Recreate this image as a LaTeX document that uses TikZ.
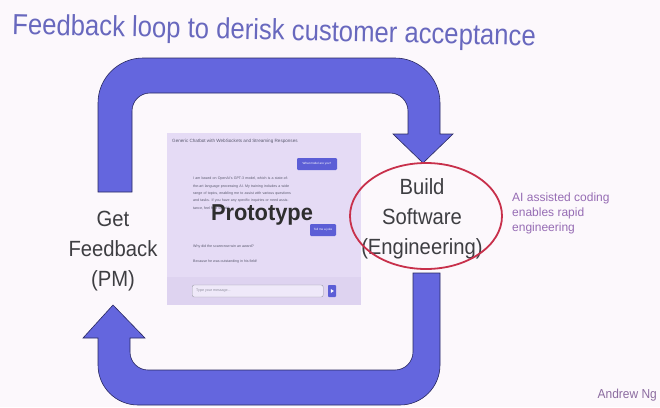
\documentclass[tikz,border=0pt]{standalone}
\usepackage{fontspec}
\setmainfont{Liberation Sans}
\usetikzlibrary{shapes.geometric}
\definecolor{bgc}{RGB}{252,248,252}
\definecolor{arrowfill}{RGB}{100,102,222}
\definecolor{arrowline}{RGB}{40,40,95}
\definecolor{titlec}{RGB}{104,104,190}
\definecolor{labelc}{RGB}{62,62,66}
\definecolor{shotc}{RGB}{229,219,245}
\definecolor{shotlow}{RGB}{222,211,240}
\definecolor{bubblec}{RGB}{92,94,214}
\definecolor{smallc}{RGB}{90,90,110}
\definecolor{ringc}{RGB}{200,48,75}
\definecolor{aic}{RGB}{150,108,180}
\definecolor{andrewc}{RGB}{140,108,160}
\tikzset{
  bigarrow/.style={fill=arrowfill, draw=arrowline, line width=0.6pt, line join=miter},
  biglabel/.style={text=labelc, align=center, inner sep=0pt, font=\fontsize{22}{30}\selectfont},
  tiny/.style={text=smallc, inner sep=0pt, font=\fontsize{3.6}{7.3}\selectfont},
  bubble/.style={fill=bubblec, rounded corners=1.2pt, inner sep=0pt, text=white, font=\fontsize{3}{4}\selectfont, align=center}
}
\begin{document}
\begin{tikzpicture}[x=1pt,y=-1pt]
\useasboundingbox (0,0) rectangle (660,407);
\fill[bgc] (0,0) rectangle (660,407);

% title
\node[anchor=base west, inner sep=0pt, text=titlec, rotate=-1.3,
      font=\fontsize{29}{34}\selectfont] (title) at (12,34)
  {\scalebox{0.885}[1]{Feedback loop to derisk customer acceptance}};

% top arrow
\path[bigarrow] (98,192) -- (98,103)
  .. controls (98,78.2) and (118.2,58) .. (143,58) -- (395,58)
  .. controls (419.8,58) and (440,78.2) .. (440,103) -- (440,134)
  -- (453,134) -- (423,163) -- (393,134) -- (408,134) -- (408,111)
  .. controls (408,101.1) and (399.9,93) .. (390,93) -- (150,93)
  .. controls (140.1,93) and (132,101.1) .. (132,111) -- (132,192) -- cycle;

% bottom arrow
\path[bigarrow] (413,273) -- (440,273) -- (440,365)
  .. controls (440,387.1) and (422.1,405) .. (400,405) -- (138,405)
  .. controls (115.9,405) and (98,387.1) .. (98,365) -- (98,338)
  -- (83,338) -- (113,305) -- (145,338) -- (130,338) -- (130,352)
  .. controls (130,361.9) and (138.1,370) .. (148,370) -- (395,370)
  .. controls (404.9,370) and (413,361.9) .. (413,352) -- cycle;

% screenshot
\fill[shotc] (167,133) rectangle (361,305);
\fill[shotlow] (167,277) rectangle (361,305);
\node[tiny, anchor=west, font=\fontsize{4.6}{6}\selectfont] (shottitle) at (172,141)
  {Generic Chatbot with WebSockets and Streaming Responses};
\node[bubble, minimum width=40pt, minimum height=12pt] (q1) at (317,164) {What model are you?};
\node[tiny, anchor=north west, text width=100pt, align=left] (ans1) at (193,177)
  {I am based on OpenAI's GPT-3 model, which is a state-of-the-art language processing AI. My training includes a wide range of topics, enabling me to assist with various questions and tasks. If you have any specific inquiries or need assistance, feel free to ask!};
\node[bubble, minimum width=26pt, minimum height=12pt] (q2) at (323,230) {Tell me a joke};
\node[tiny, anchor=west] (ans2a) at (193,247) {Why did the scarecrow win an award?};
\node[tiny, anchor=west] (ans2b) at (193,262) {Because he was outstanding in his field!};
\node[draw=smallc!60, fill=shotc!60!white, rounded corners=2pt, minimum width=131pt,
      minimum height=12pt, inner sep=0pt, anchor=west] (input) at (192,291) {};
\node[tiny, anchor=west, text=smallc!70] (ph) at (196,291) {Type your message...};
\node[fill=bubblec, minimum width=8pt, minimum height=12pt, inner sep=0pt,
      rounded corners=0.8pt] (send) at (332,291) {};
\fill[white] (330.8,289) -- (333.8,291) -- (330.8,293) -- cycle;

\node[inner sep=0pt, anchor=base, text=black!82, font=\bfseries\fontsize{23}{26}\selectfont]
  (proto) at (262,220) {\scalebox{0.95}[1]{Prototype}};

% labels
\node[biglabel] (getfb) at (113,251) {\scalebox{0.92}[1]{Get}\\\scalebox{0.92}[1]{Feedback}\\\scalebox{0.92}[1]{(PM)}};
\node[biglabel] (build) at (422,219) {\scalebox{0.92}[1]{Build}\\\scalebox{0.92}[1]{Software}\\\scalebox{0.92}[1]{(Engineering)}};
\node[draw=ringc, line width=1.8pt, ellipse, minimum width=152pt, minimum height=106pt,
      inner sep=0pt] (ring) at (426,216) {};

\node[anchor=north west, inner sep=0pt, align=left, text=aic,
      font=\fontsize{12}{15}\selectfont] (ai) at (512,193)
  {AI assisted coding\\enables rapid\\engineering};

\node[anchor=base east, inner sep=0pt, text=andrewc, font=\fontsize{13}{15}\selectfont]
  (andrew) at (657,398) {\scalebox{0.92}[1]{Andrew Ng}};
\end{tikzpicture}
\end{document}
